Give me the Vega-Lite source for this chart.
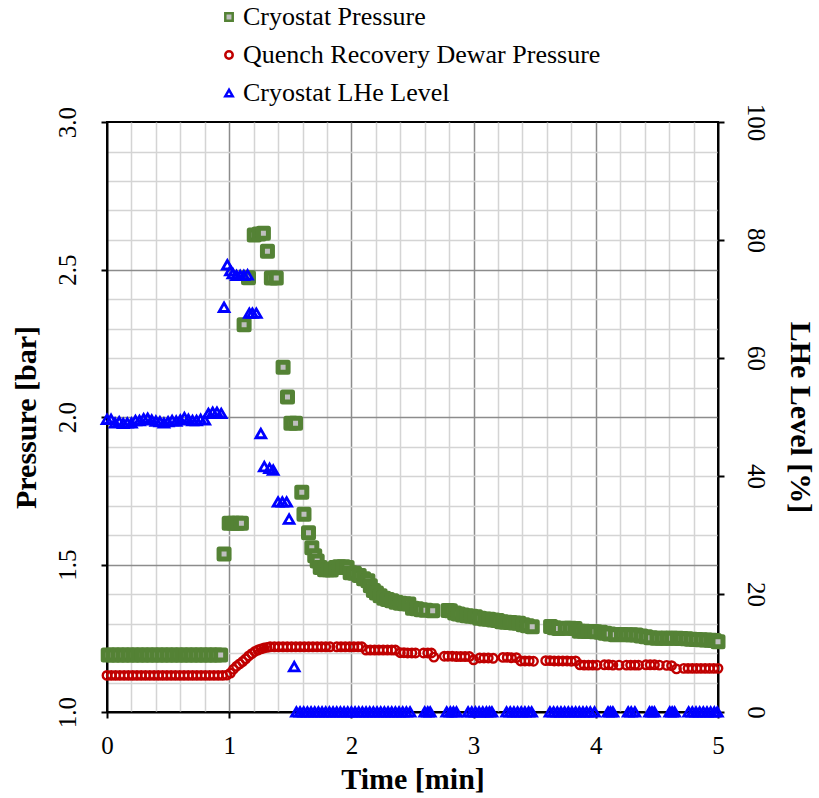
{
  "$schema": "https://vega.github.io/schema/vega-lite/v6.json",
  "width": 611,
  "height": 590,
  "autosize": {"type": "none"},
  "padding": {"left": 107, "top": 122, "right": 101, "bottom": 86},
  "background": "white",
  "config": {
    "font": "Liberation Serif",
    "view": {"stroke": "black", "strokeWidth": 2},
    "axis": {
      "labelFont": "Liberation Serif",
      "labelFontSize": 25,
      "labelColor": "black",
      "titleFont": "Liberation Serif",
      "titleFontSize": 30,
      "titleFontWeight": "bold",
      "titleColor": "black",
      "domainColor": "black",
      "domainWidth": 2,
      "tickColor": "black",
      "tickSize": 6,
      "tickWidth": 2,
      "gridWidth": 1.5
    },
    "legend": {
      "orient": "none",
      "legendX": 109,
      "legendY": -118,
      "padding": 0,
      "labelFont": "Liberation Serif",
      "labelFontSize": 26,
      "labelColor": "black",
      "labelLimit": 0,
      "labelOffset": 1,
      "symbolSize": 55,
      "symbolStrokeWidth": 2.5,
      "rowPadding": 12,
      "titlePadding": 0
    }
  },
  "datasets": {
    "cryostatPressure": [
      {"t": 0.01, "value": 1.193}, {"t": 0.05, "value": 1.193}, {"t": 0.09, "value": 1.193}, {"t": 0.13, "value": 1.193},
      {"t": 0.17, "value": 1.193}, {"t": 0.21, "value": 1.193}, {"t": 0.25, "value": 1.193}, {"t": 0.29, "value": 1.193},
      {"t": 0.33, "value": 1.193}, {"t": 0.37, "value": 1.193}, {"t": 0.41, "value": 1.193}, {"t": 0.45, "value": 1.193},
      {"t": 0.49, "value": 1.193}, {"t": 0.53, "value": 1.193}, {"t": 0.57, "value": 1.193}, {"t": 0.61, "value": 1.193},
      {"t": 0.65, "value": 1.193}, {"t": 0.69, "value": 1.193}, {"t": 0.73, "value": 1.193}, {"t": 0.77, "value": 1.193},
      {"t": 0.81, "value": 1.193}, {"t": 0.85, "value": 1.193}, {"t": 0.89, "value": 1.193}, {"t": 0.93, "value": 1.193},
      {"t": 0.958, "value": 1.536}, {"t": 1.0, "value": 1.64}, {"t": 1.035, "value": 1.64}, {"t": 1.07, "value": 1.64},
      {"t": 1.1, "value": 1.64}, {"t": 1.122, "value": 2.313}, {"t": 1.158, "value": 2.472}, {"t": 1.205, "value": 2.617},
      {"t": 1.245, "value": 2.62}, {"t": 1.28, "value": 2.623}, {"t": 1.313, "value": 2.562}, {"t": 1.345, "value": 2.471},
      {"t": 1.385, "value": 2.471}, {"t": 1.441, "value": 2.169}, {"t": 1.477, "value": 2.068}, {"t": 1.505, "value": 1.979},
      {"t": 1.543, "value": 1.979}, {"t": 1.594, "value": 1.745}, {"t": 1.612, "value": 1.67}, {"t": 1.649, "value": 1.608},
      {"t": 1.676, "value": 1.557}, {"t": 1.7, "value": 1.53}, {"t": 1.72, "value": 1.512}, {"t": 1.745, "value": 1.49},
      {"t": 1.78, "value": 1.482}, {"t": 1.81, "value": 1.482}, {"t": 1.835, "value": 1.481}, {"t": 1.87, "value": 1.49},
      {"t": 1.9, "value": 1.492}, {"t": 1.935, "value": 1.492}, {"t": 1.965, "value": 1.49}, {"t": 1.99, "value": 1.472},
      {"t": 2.025, "value": 1.47}, {"t": 2.064, "value": 1.463}, {"t": 2.1, "value": 1.452}, {"t": 2.135, "value": 1.445},
      {"t": 2.155, "value": 1.428}, {"t": 2.18, "value": 1.412}, {"t": 2.205, "value": 1.403}, {"t": 2.235, "value": 1.394},
      {"t": 2.265, "value": 1.386}, {"t": 2.295, "value": 1.381}, {"t": 2.33, "value": 1.377}, {"t": 2.365, "value": 1.372},
      {"t": 2.4, "value": 1.369}, {"t": 2.435, "value": 1.367}, {"t": 2.47, "value": 1.366}, {"t": 2.5, "value": 1.352},
      {"t": 2.535, "value": 1.35}, {"t": 2.57, "value": 1.347}, {"t": 2.61, "value": 1.345}, {"t": 2.665, "value": 1.343},
      {"t": 2.79, "value": 1.344}, {"t": 2.81, "value": 1.343}, {"t": 2.845, "value": 1.336}, {"t": 2.875, "value": 1.332},
      {"t": 2.91, "value": 1.329}, {"t": 2.945, "value": 1.326}, {"t": 2.98, "value": 1.325}, {"t": 3.015, "value": 1.323},
      {"t": 3.05, "value": 1.318}, {"t": 3.09, "value": 1.315}, {"t": 3.125, "value": 1.314}, {"t": 3.16, "value": 1.312},
      {"t": 3.195, "value": 1.31}, {"t": 3.23, "value": 1.306}, {"t": 3.265, "value": 1.304}, {"t": 3.3, "value": 1.303},
      {"t": 3.335, "value": 1.302}, {"t": 3.37, "value": 1.301}, {"t": 3.405, "value": 1.296}, {"t": 3.44, "value": 1.292},
      {"t": 3.48, "value": 1.289}, {"t": 3.63, "value": 1.29}, {"t": 3.66, "value": 1.286}, {"t": 3.695, "value": 1.283},
      {"t": 3.75, "value": 1.284}, {"t": 3.79, "value": 1.284}, {"t": 3.83, "value": 1.283}, {"t": 3.865, "value": 1.274},
      {"t": 3.9, "value": 1.274}, {"t": 3.935, "value": 1.273}, {"t": 3.97, "value": 1.273}, {"t": 3.995, "value": 1.272},
      {"t": 4.04, "value": 1.27}, {"t": 4.075, "value": 1.267}, {"t": 4.11, "value": 1.264}, {"t": 4.16, "value": 1.262},
      {"t": 4.21, "value": 1.263}, {"t": 4.25, "value": 1.262}, {"t": 4.29, "value": 1.262}, {"t": 4.33, "value": 1.261},
      {"t": 4.37, "value": 1.258}, {"t": 4.41, "value": 1.255}, {"t": 4.45, "value": 1.252}, {"t": 4.5, "value": 1.25},
      {"t": 4.54, "value": 1.25}, {"t": 4.58, "value": 1.25}, {"t": 4.62, "value": 1.25}, {"t": 4.666, "value": 1.25},
      {"t": 4.7, "value": 1.249}, {"t": 4.74, "value": 1.248}, {"t": 4.78, "value": 1.247}, {"t": 4.82, "value": 1.246},
      {"t": 4.86, "value": 1.245}, {"t": 4.9, "value": 1.244}, {"t": 4.94, "value": 1.243}, {"t": 4.97, "value": 1.242},
      {"t": 5.0, "value": 1.238}
    ],
    "dewarPressure": [
      {"t": 0.0, "value": 1.124}, {"t": 0.035, "value": 1.124}, {"t": 0.07, "value": 1.124}, {"t": 0.105, "value": 1.124},
      {"t": 0.14, "value": 1.124}, {"t": 0.175, "value": 1.124}, {"t": 0.21, "value": 1.124}, {"t": 0.245, "value": 1.124},
      {"t": 0.28, "value": 1.124}, {"t": 0.315, "value": 1.124}, {"t": 0.35, "value": 1.124}, {"t": 0.385, "value": 1.124},
      {"t": 0.42, "value": 1.124}, {"t": 0.455, "value": 1.124}, {"t": 0.49, "value": 1.124}, {"t": 0.525, "value": 1.124},
      {"t": 0.56, "value": 1.124}, {"t": 0.595, "value": 1.124}, {"t": 0.63, "value": 1.124}, {"t": 0.665, "value": 1.124},
      {"t": 0.7, "value": 1.124}, {"t": 0.735, "value": 1.124}, {"t": 0.77, "value": 1.124}, {"t": 0.805, "value": 1.124},
      {"t": 0.84, "value": 1.124}, {"t": 0.875, "value": 1.124}, {"t": 0.91, "value": 1.124}, {"t": 0.945, "value": 1.124},
      {"t": 0.98, "value": 1.125}, {"t": 1.01, "value": 1.132}, {"t": 1.035, "value": 1.145}, {"t": 1.06, "value": 1.155},
      {"t": 1.085, "value": 1.163}, {"t": 1.11, "value": 1.171}, {"t": 1.135, "value": 1.18}, {"t": 1.16, "value": 1.19},
      {"t": 1.185, "value": 1.198}, {"t": 1.21, "value": 1.205}, {"t": 1.235, "value": 1.21}, {"t": 1.26, "value": 1.214},
      {"t": 1.285, "value": 1.217}, {"t": 1.31, "value": 1.219}, {"t": 1.335, "value": 1.221}, {"t": 1.37, "value": 1.221},
      {"t": 1.405, "value": 1.221}, {"t": 1.44, "value": 1.221}, {"t": 1.475, "value": 1.221}, {"t": 1.51, "value": 1.221},
      {"t": 1.545, "value": 1.221}, {"t": 1.58, "value": 1.221}, {"t": 1.615, "value": 1.221}, {"t": 1.65, "value": 1.221},
      {"t": 1.685, "value": 1.221}, {"t": 1.72, "value": 1.221}, {"t": 1.755, "value": 1.221}, {"t": 1.79, "value": 1.221},
      {"t": 1.825, "value": 1.221}, {"t": 1.88, "value": 1.221}, {"t": 1.915, "value": 1.221}, {"t": 1.95, "value": 1.221},
      {"t": 1.985, "value": 1.221}, {"t": 2.02, "value": 1.221}, {"t": 2.055, "value": 1.221}, {"t": 2.085, "value": 1.221},
      {"t": 2.12, "value": 1.21}, {"t": 2.155, "value": 1.21}, {"t": 2.19, "value": 1.21}, {"t": 2.225, "value": 1.21},
      {"t": 2.26, "value": 1.21}, {"t": 2.295, "value": 1.21}, {"t": 2.33, "value": 1.21}, {"t": 2.36, "value": 1.21},
      {"t": 2.4, "value": 1.201}, {"t": 2.43, "value": 1.201}, {"t": 2.46, "value": 1.2}, {"t": 2.495, "value": 1.2},
      {"t": 2.525, "value": 1.2}, {"t": 2.59, "value": 1.2}, {"t": 2.625, "value": 1.2}, {"t": 2.655, "value": 1.2},
      {"t": 2.675, "value": 1.186}, {"t": 2.76, "value": 1.189}, {"t": 2.79, "value": 1.189}, {"t": 2.825, "value": 1.189},
      {"t": 2.86, "value": 1.188}, {"t": 2.895, "value": 1.188}, {"t": 2.93, "value": 1.188}, {"t": 2.965, "value": 1.188},
      {"t": 3.0, "value": 1.177}, {"t": 3.05, "value": 1.183}, {"t": 3.085, "value": 1.183}, {"t": 3.12, "value": 1.183},
      {"t": 3.16, "value": 1.182}, {"t": 3.24, "value": 1.185}, {"t": 3.275, "value": 1.185}, {"t": 3.31, "value": 1.184},
      {"t": 3.35, "value": 1.184}, {"t": 3.385, "value": 1.173}, {"t": 3.42, "value": 1.173}, {"t": 3.455, "value": 1.173},
      {"t": 3.49, "value": 1.172}, {"t": 3.59, "value": 1.174}, {"t": 3.625, "value": 1.174}, {"t": 3.66, "value": 1.173},
      {"t": 3.695, "value": 1.173}, {"t": 3.73, "value": 1.173}, {"t": 3.765, "value": 1.173}, {"t": 3.8, "value": 1.172},
      {"t": 3.835, "value": 1.173}, {"t": 3.87, "value": 1.16}, {"t": 3.905, "value": 1.159}, {"t": 3.94, "value": 1.159},
      {"t": 3.975, "value": 1.159}, {"t": 4.01, "value": 1.159}, {"t": 4.07, "value": 1.16}, {"t": 4.105, "value": 1.16},
      {"t": 4.14, "value": 1.159}, {"t": 4.19, "value": 1.159}, {"t": 4.25, "value": 1.159}, {"t": 4.285, "value": 1.159},
      {"t": 4.32, "value": 1.159}, {"t": 4.35, "value": 1.159}, {"t": 4.41, "value": 1.16}, {"t": 4.445, "value": 1.16},
      {"t": 4.48, "value": 1.16}, {"t": 4.52, "value": 1.159}, {"t": 4.58, "value": 1.158}, {"t": 4.62, "value": 1.157},
      {"t": 4.66, "value": 1.146}, {"t": 4.72, "value": 1.148}, {"t": 4.755, "value": 1.148}, {"t": 4.79, "value": 1.148},
      {"t": 4.825, "value": 1.148}, {"t": 4.86, "value": 1.148}, {"t": 4.895, "value": 1.148}, {"t": 4.93, "value": 1.148},
      {"t": 4.965, "value": 1.148}, {"t": 5.0, "value": 1.148}
    ],
    "lheLevel": [
      {"t": 0.0, "value": 49.6}, {"t": 0.033, "value": 49.6}, {"t": 0.066, "value": 49.0}, {"t": 0.1, "value": 49.2},
      {"t": 0.133, "value": 48.9}, {"t": 0.166, "value": 49.0}, {"t": 0.2, "value": 49.0}, {"t": 0.233, "value": 49.4},
      {"t": 0.266, "value": 49.4}, {"t": 0.3, "value": 49.7}, {"t": 0.333, "value": 49.8}, {"t": 0.366, "value": 49.5},
      {"t": 0.4, "value": 49.3}, {"t": 0.433, "value": 49.2}, {"t": 0.466, "value": 49.0}, {"t": 0.5, "value": 49.2},
      {"t": 0.533, "value": 49.4}, {"t": 0.566, "value": 49.3}, {"t": 0.6, "value": 49.5}, {"t": 0.633, "value": 49.9},
      {"t": 0.666, "value": 49.6}, {"t": 0.7, "value": 49.4}, {"t": 0.733, "value": 49.4}, {"t": 0.766, "value": 49.6},
      {"t": 0.8, "value": 49.5}, {"t": 0.83, "value": 50.6}, {"t": 0.865, "value": 50.8}, {"t": 0.9, "value": 50.8},
      {"t": 0.935, "value": 50.6}, {"t": 0.958, "value": 68.6}, {"t": 0.985, "value": 75.8}, {"t": 1.01, "value": 74.8},
      {"t": 1.03, "value": 74.3}, {"t": 1.06, "value": 74.0}, {"t": 1.09, "value": 74.0}, {"t": 1.12, "value": 74.0},
      {"t": 1.15, "value": 74.1}, {"t": 1.165, "value": 67.6}, {"t": 1.19, "value": 67.6}, {"t": 1.222, "value": 67.6},
      {"t": 1.259, "value": 47.2}, {"t": 1.287, "value": 41.6}, {"t": 1.33, "value": 41.3}, {"t": 1.36, "value": 41.0},
      {"t": 1.4, "value": 35.6}, {"t": 1.435, "value": 35.6}, {"t": 1.47, "value": 35.6}, {"t": 1.49, "value": 32.7},
      {"t": 1.532, "value": 7.7},
      {"t": 1.55, "value": 0}, {"t": 1.58, "value": 0}, {"t": 1.61, "value": 0}, {"t": 1.64, "value": 0},
      {"t": 1.67, "value": 0}, {"t": 1.7, "value": 0}, {"t": 1.73, "value": 0}, {"t": 1.76, "value": 0},
      {"t": 1.79, "value": 0}, {"t": 1.82, "value": 0}, {"t": 1.85, "value": 0}, {"t": 1.88, "value": 0},
      {"t": 1.91, "value": 0}, {"t": 1.94, "value": 0}, {"t": 1.97, "value": 0}, {"t": 2.0, "value": 0},
      {"t": 2.03, "value": 0}, {"t": 2.06, "value": 0}, {"t": 2.09, "value": 0}, {"t": 2.12, "value": 0},
      {"t": 2.15, "value": 0}, {"t": 2.18, "value": 0}, {"t": 2.21, "value": 0}, {"t": 2.24, "value": 0},
      {"t": 2.27, "value": 0}, {"t": 2.3, "value": 0}, {"t": 2.33, "value": 0}, {"t": 2.36, "value": 0},
      {"t": 2.39, "value": 0}, {"t": 2.42, "value": 0}, {"t": 2.45, "value": 0}, {"t": 2.48, "value": 0},
      {"t": 2.6, "value": 0}, {"t": 2.625, "value": 0}, {"t": 2.645, "value": 0},
      {"t": 2.78, "value": 0}, {"t": 2.81, "value": 0}, {"t": 2.835, "value": 0}, {"t": 2.86, "value": 0},
      {"t": 2.955, "value": 0}, {"t": 2.985, "value": 0}, {"t": 3.015, "value": 0}, {"t": 3.045, "value": 0},
      {"t": 3.075, "value": 0}, {"t": 3.105, "value": 0}, {"t": 3.13, "value": 0}, {"t": 3.15, "value": 0},
      {"t": 3.27, "value": 0}, {"t": 3.3, "value": 0}, {"t": 3.33, "value": 0}, {"t": 3.36, "value": 0},
      {"t": 3.39, "value": 0}, {"t": 3.42, "value": 0}, {"t": 3.45, "value": 0}, {"t": 3.475, "value": 0},
      {"t": 3.625, "value": 0}, {"t": 3.655, "value": 0}, {"t": 3.685, "value": 0}, {"t": 3.715, "value": 0},
      {"t": 3.745, "value": 0}, {"t": 3.775, "value": 0}, {"t": 3.805, "value": 0}, {"t": 3.835, "value": 0},
      {"t": 3.865, "value": 0}, {"t": 3.895, "value": 0}, {"t": 3.925, "value": 0}, {"t": 3.955, "value": 0},
      {"t": 3.99, "value": 0}, {"t": 4.1, "value": 0}, {"t": 4.12, "value": 0}, {"t": 4.14, "value": 0},
      {"t": 4.265, "value": 0}, {"t": 4.29, "value": 0}, {"t": 4.32, "value": 0},
      {"t": 4.44, "value": 0}, {"t": 4.46, "value": 0}, {"t": 4.48, "value": 0},
      {"t": 4.605, "value": 0}, {"t": 4.625, "value": 0}, {"t": 4.645, "value": 0},
      {"t": 4.76, "value": 0}, {"t": 4.79, "value": 0}, {"t": 4.82, "value": 0}, {"t": 4.85, "value": 0},
      {"t": 4.88, "value": 0}, {"t": 4.91, "value": 0}, {"t": 4.94, "value": 0}, {"t": 4.97, "value": 0},
      {"t": 4.995, "value": 0}
    ]
  },
  "encoding": {
    "x": {
      "field": "t",
      "type": "quantitative",
      "scale": {"domain": [0, 5], "nice": false, "zero": false},
      "axis": {
        "title": "Time [min]",
        "values": [0, 0.2, 0.4, 0.6, 0.8, 1, 1.2, 1.4, 1.6, 1.8, 2, 2.2, 2.4, 2.6, 2.8, 3, 3.2, 3.4, 3.6, 3.8, 4, 4.2, 4.4, 4.6, 4.8, 5],
        "labelExpr": "abs(datum.value - round(datum.value)) < 0.001 ? format(datum.value, 'd') : ''",
        "labelFlush": false,
        "labelOverlap": false,
        "labelPadding": 15,
        "titlePadding": 6,
        "tickColor": {"condition": {"test": "abs(datum.value - round(datum.value)) < 0.001", "value": "black"}, "value": "transparent"},
        "gridColor": {"condition": {"test": "abs(datum.value - round(datum.value)) < 0.001", "value": "#8c8c8c"}, "value": "#d4d4d4"},
        "gridOpacity": {"condition": {"test": "datum.value <= 0 || datum.value >= 5", "value": 0}, "value": 1}
      }
    }
  },
  "layer": [
    {
      "encoding": {
        "y": {
          "field": "value",
          "type": "quantitative",
          "scale": {"domain": [1, 3], "nice": false, "zero": false},
          "axis": {
            "title": "Pressure [bar]",
            "values": [1, 1.1, 1.2, 1.3, 1.4, 1.5, 1.6, 1.7, 1.8, 1.9, 2, 2.1, 2.2, 2.3, 2.4, 2.5, 2.6, 2.7, 2.8, 2.9, 3],
            "labelExpr": "abs(datum.value * 2 - round(datum.value * 2)) < 0.001 ? format(datum.value, '.1f') : ''",
            "labelAngle": -90,
            "labelAlign": "center",
            "labelBaseline": "bottom",
            "labelFlush": false,
            "labelOverlap": false,
            "labelPadding": 21,
            "titlePadding": 14,
            "tickColor": {"condition": {"test": "abs(datum.value * 2 - round(datum.value * 2)) < 0.001", "value": "black"}, "value": "transparent"},
            "gridColor": {"condition": {"test": "abs(datum.value * 2 - round(datum.value * 2)) < 0.001", "value": "#8c8c8c"}, "value": "#d4d4d4"},
            "gridOpacity": {"condition": {"test": "datum.value <= 1 || datum.value >= 3", "value": 0}, "value": 1}
          }
        }
      },
      "layer": [
        {
          "data": {"name": "cryostatPressure"},
          "mark": {"type": "point", "size": 100, "strokeWidth": 5, "strokeJoin": "round", "opacity": 1},
          "encoding": {
            "shape": {"datum": "Cryostat Pressure", "type": "nominal", "legend": {"title": null},
              "scale": {"domain": ["Cryostat Pressure", "Quench Recovery Dewar Pressure", "Cryostat LHe Level"], "range": ["square", "circle", "triangle-up"]}},
            "stroke": {"datum": "Cryostat Pressure", "type": "nominal", "legend": {"title": null},
              "scale": {"domain": ["Cryostat Pressure", "Quench Recovery Dewar Pressure", "Cryostat LHe Level"], "range": ["#548235", "#c00000", "#0000ff"]}},
            "fill": {"datum": "Cryostat Pressure", "type": "nominal", "legend": {"title": null},
              "scale": {"domain": ["Cryostat Pressure", "Quench Recovery Dewar Pressure", "Cryostat LHe Level"], "range": ["#bfbfbf", "transparent", "transparent"]}}
          }
        },
        {
          "data": {"name": "dewarPressure"},
          "mark": {"type": "point", "size": 72, "strokeWidth": 2.4, "opacity": 1},
          "encoding": {
            "shape": {"datum": "Quench Recovery Dewar Pressure", "type": "nominal", "legend": {"title": null},
              "scale": {"domain": ["Cryostat Pressure", "Quench Recovery Dewar Pressure", "Cryostat LHe Level"], "range": ["square", "circle", "triangle-up"]}},
            "stroke": {"datum": "Quench Recovery Dewar Pressure", "type": "nominal", "legend": {"title": null},
              "scale": {"domain": ["Cryostat Pressure", "Quench Recovery Dewar Pressure", "Cryostat LHe Level"], "range": ["#548235", "#c00000", "#0000ff"]}},
            "fill": {"datum": "Quench Recovery Dewar Pressure", "type": "nominal", "legend": {"title": null},
              "scale": {"domain": ["Cryostat Pressure", "Quench Recovery Dewar Pressure", "Cryostat LHe Level"], "range": ["#bfbfbf", "transparent", "transparent"]}}
          }
        }
      ]
    },
    {
      "data": {"name": "lheLevel"},
      "mark": {"type": "point", "size": 95, "strokeWidth": 2.8, "opacity": 1},
      "encoding": {
        "y": {
          "field": "value",
          "type": "quantitative",
          "scale": {"domain": [0, 100], "nice": false},
          "axis": {
            "orient": "right",
            "title": "LHe Level [%]",
            "values": [0, 20, 40, 60, 80, 100],
            "grid": false,
            "labelAngle": 90,
            "labelAlign": "center",
            "labelBaseline": "bottom",
            "labelFlush": false,
            "labelPadding": 18,
            "titlePadding": 17
          }
        },
        "shape": {"datum": "Cryostat LHe Level", "type": "nominal", "legend": {"title": null},
          "scale": {"domain": ["Cryostat Pressure", "Quench Recovery Dewar Pressure", "Cryostat LHe Level"], "range": ["square", "circle", "triangle-up"]}},
        "stroke": {"datum": "Cryostat LHe Level", "type": "nominal", "legend": {"title": null},
          "scale": {"domain": ["Cryostat Pressure", "Quench Recovery Dewar Pressure", "Cryostat LHe Level"], "range": ["#548235", "#c00000", "#0000ff"]}},
        "fill": {"datum": "Cryostat LHe Level", "type": "nominal", "legend": {"title": null},
          "scale": {"domain": ["Cryostat Pressure", "Quench Recovery Dewar Pressure", "Cryostat LHe Level"], "range": ["#bfbfbf", "transparent", "transparent"]}}
      }
    }
  ],
  "resolve": {"scale": {"y": "independent"}}
}
